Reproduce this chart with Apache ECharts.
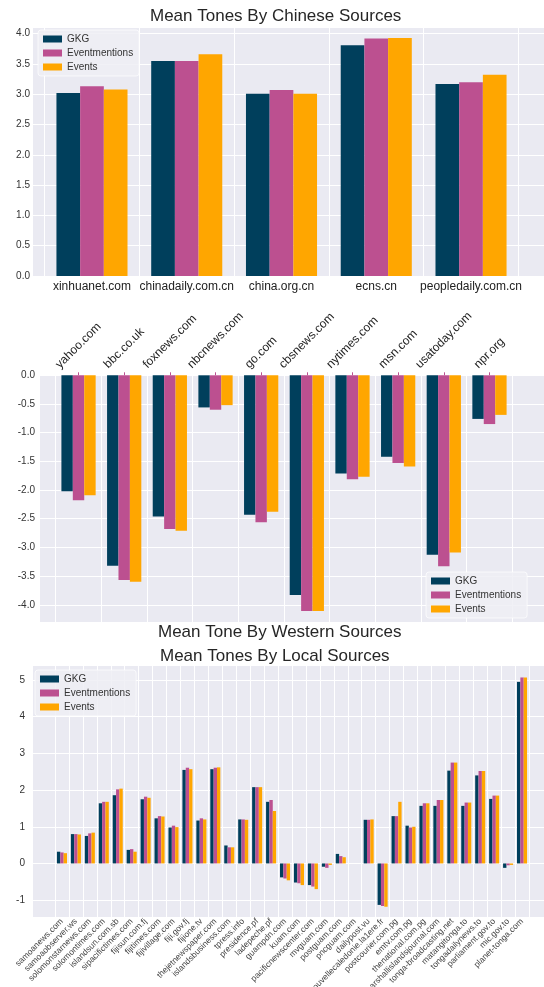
<!DOCTYPE html>
<html>
<head>
<meta charset="utf-8">
<script src="https://cdn.jsdelivr.net/npm/echarts@6/dist/echarts.min.js"></script>
<style>
  html, body { margin: 0; padding: 0; background: #fff; }
  #chart { width: 544px; height: 987px; }
</style>
</head>
<body>
<div id="chart"></div>
<script>
  var seriesNames = ['GKG', 'Eventmentions', 'Events'];
  var colors = ['#003f5c', '#bc5090', '#ffa600'];

  // 中文来源
  var chineseSites = ['xinhuanet.com', 'chinadaily.com.cn', 'china.org.cn', 'ecns.cn', 'peopledaily.com.cn'];
  var chineseGkg = [3.02, 3.55, 3.01, 3.81, 3.17];
  var chineseMentions = [3.13, 3.55, 3.07, 3.92, 3.20];
  var chineseEvents = [3.08, 3.66, 3.01, 3.93, 3.32];

  // western sources
  var westernSites = ['yahoo.com', 'bbc.co.uk', 'foxnews.com', 'nbcnews.com', 'go.com', 'cbsnews.com',
    'nytimes.com', 'msn.com', 'usatoday.com', 'npr.org'];
  var westernGkg = [-2.02, -3.32, -2.46, -0.56, -2.43, -3.83, -1.71, -1.42, -3.13, -0.76];
  var westernMentions = [-2.18, -3.57, -2.68, -0.60, -2.56, -4.11, -1.81, -1.53, -3.33, -0.85];
  var westernEvents = [-2.09, -3.60, -2.71, -0.52, -2.38, -4.11, -1.77, -1.59, -3.09, -0.69];

  // local sources
  var localSites = ['samoanews.com', 'samoaobserver.ws', 'solomonstarnews.com', 'solomontimes.com',
    'islandsun.com.sb', 'sipacifictimes.com', 'fijisun.com.fj', 'fijitimes.com', 'fijivillage.com',
    'fiji.gov.fj', 'fijione.tv', 'thejetnewspaper.com', 'islandsbusiness.com', 'tpress.info',
    'presidence.pf', 'ladepeche.pf', 'guampdn.com', 'kuam.com', 'pacificnewscenter.com', 'mvguam.com',
    'postguam.com', 'pncguam.com', 'dailypost.vu', 'nouvellecaledonie.la1ere.fr', 'postcourier.com.pg',
    'emtv.com.pg', 'thenational.com.pg', 'marshallislandsjournal.com', 'tonga-broadcasting.net',
    'matangitonga.to', 'tongadailynews.to', 'parliament.gov.to', 'mic.gov.to', 'planet-tonga.com'];
  var localGkg = [0.32, 0.80, 0.75, 1.64, 1.86, 0.37, 1.75, 1.23, 0.98, 2.55, 1.17, 2.57, 0.49, 1.20,
    2.08, 1.68, -0.38, -0.52, -0.59, -0.09, 0.26, 0, 1.19, -1.13, 1.29, 1.03, 1.57, 1.57, 2.53, 1.57,
    2.40, 1.76, -0.12, 4.95];
  var localMentions = [0.30, 0.80, 0.82, 1.68, 2.02, 0.39, 1.82, 1.29, 1.03, 2.61, 1.23, 2.61, 0.44, 1.20,
    2.08, 1.73, -0.41, -0.54, -0.63, -0.12, 0.20, 0, 1.19, -1.16, 1.29, 0.98, 1.64, 1.73, 2.75, 1.66,
    2.52, 1.85, -0.05, 5.07];
  var localEvents = [0.28, 0.79, 0.84, 1.68, 2.04, 0.32, 1.79, 1.28, 0.99, 2.57, 1.20, 2.62, 0.44, 1.19,
    2.08, 1.43, -0.46, -0.59, -0.70, -0.04, 0.17, 0, 1.20, -1.18, 1.68, 1.00, 1.64, 1.73, 2.75, 1.66,
    2.52, 1.85, -0.04, 5.07];

  var FONT = 'Liberation Sans';
  var chart = echarts.init(document.getElementById('chart'), null, { renderer: 'canvas' });

  // 顶部斜标签按 matplotlib 的方式居中：用文字宽度算 padding
  var ctx = document.createElement('canvas').getContext('2d');
  ctx.font = '12px "' + FONT + '"';
  var westernRich = {};
  westernSites.forEach(function (s, i) {
    var w = ctx.measureText(s).width;
    westernRich['w' + i] = {
      fontSize: 12, fontFamily: FONT, color: '#222',
      padding: [0, 0, w / 2, w / 2]
    };
  });

  function bgGrid(left, top, width, height) {
    return { left: left, top: top, width: width, height: height, show: true,
      backgroundColor: '#eaeaf2', borderWidth: 0, outerBoundsMode: 'none' };
  }
  function barGrid(left, top, width, height) {
    return { left: left, top: top, width: width, height: height, show: false, outerBoundsMode: 'none' };
  }

  var grids = [
    bgGrid(33, 27, 511, 249), barGrid(44.6, 27, 473.8, 249),
    bgGrid(40, 375.3, 504, 246.7), barGrid(55.7, 375.3, 456.6, 246.7),
    bgGrid(33, 665, 511, 252), barGrid(55, 665, 474, 252)
  ];

  var ranges = [[0, 4.11], [-4.3, 0], [-1.46, 5.41]];
  var splits = [8, 8, 6];
  var labelMargins = [3, 5, 8];

  var xAxes = [], yAxes = [];
  for (var p = 0; p < 3; p++) {
    xAxes.push({ type: 'value', gridIndex: 2 * p, min: 0, max: 1, show: false });
    yAxes.push({
      type: 'value', gridIndex: 2 * p, min: ranges[p][0], max: ranges[p][1], splitNumber: splits[p],
      axisLine: { show: false }, axisTick: { show: false },
      splitLine: { show: true, lineStyle: { color: '#fff', width: 1 } },
      axisLabel: {
        fontSize: 10, color: '#333', fontFamily: FONT, margin: labelMargins[p],
        showMinLabel: p === 0, showMaxLabel: p === 1,
        formatter: p === 2 ? function (v) { return String(v); } : function (v) { return v.toFixed(1); }
      }
    });
    yAxes.push({ type: 'value', gridIndex: 2 * p + 1, min: ranges[p][0], max: ranges[p][1], show: false });
  }

  xAxes.push({
    type: 'category', gridIndex: 1, data: chineseSites,
    axisLine: { show: false }, axisTick: { show: false },
    splitLine: { show: true, lineStyle: { color: '#fff', width: 1 } },
    axisLabel: { interval: 0, fontSize: 12, color: '#222', fontFamily: FONT, margin: 5 }
  });
  xAxes.push({
    type: 'category', gridIndex: 3, data: westernSites, position: 'top',
    axisLine: { show: false },
    axisTick: { show: true, alignWithLabel: true, length: 3, lineStyle: { color: '#bc5090' } },
    splitLine: { show: true, lineStyle: { color: '#fff', width: 1 } },
    axisLabel: {
      interval: 0, rotate: 45, align: 'center', verticalAlign: 'middle', margin: 9,
      fontSize: 12, color: '#222', fontFamily: FONT, rich: westernRich,
      formatter: function (v, i) { return '{w' + i + '|' + v + '}'; }
    }
  });
  xAxes.push({
    type: 'category', gridIndex: 5, data: localSites,
    axisLine: { show: false }, axisTick: { show: false },
    splitLine: { show: true, lineStyle: { color: '#fff', width: 1 } },
    axisLabel: { interval: 0, rotate: 45, fontSize: 8.5, color: '#444', fontFamily: FONT, margin: 3 }
  });

  var panelData = [
    [chineseGkg, chineseMentions, chineseEvents],
    [westernGkg, westernMentions, westernEvents],
    [localGkg, localMentions, localEvents]
  ];
  var gaps = ['25%', '25%', '28%'];
  var series = [];
  panelData.forEach(function (sets, p) {
    sets.forEach(function (vals, k) {
      series.push({
        name: seriesNames[k], type: 'bar',
        xAxisIndex: 3 + p, yAxisIndex: 2 * p + 1,
        data: vals, barGap: '0%', barCategoryGap: gaps[p],
        itemStyle: { color: colors[k] }
      });
    });
  });

  function legend(left, top) {
    return {
      orient: 'vertical', left: left, top: top, data: seriesNames, icon: 'rect',
      itemWidth: 19, itemHeight: 7, itemGap: 4, padding: [4, 6, 4, 5],
      backgroundColor: 'rgba(238,238,244,0.85)', borderColor: 'rgba(255,255,255,0.7)',
      borderWidth: 1, borderRadius: 3,
      textStyle: { fontSize: 10, color: '#333', fontFamily: FONT }
    };
  }

  var titleStyle = { fontSize: 17, fontWeight: 'normal', color: '#262626', fontFamily: FONT };
  var option = {
    animation: false,
    backgroundColor: '#fff',
    color: colors,
    title: [
      { text: 'Mean Tones By Chinese Sources', left: 150, top: 8, padding: 0, textStyle: titleStyle },
      { text: 'Mean Tone By Western Sources', left: 158, top: 624, padding: 0, textStyle: titleStyle },
      { text: 'Mean Tones By Local Sources', left: 160, top: 648, padding: 0, textStyle: titleStyle }
    ],
    legend: [legend(38, 30), legend(426, 572), legend(35, 670)],
    grid: grids,
    xAxis: xAxes,
    yAxis: yAxes,
    series: series
  };
  chart.setOption(option);
</script>
</body>
</html>
